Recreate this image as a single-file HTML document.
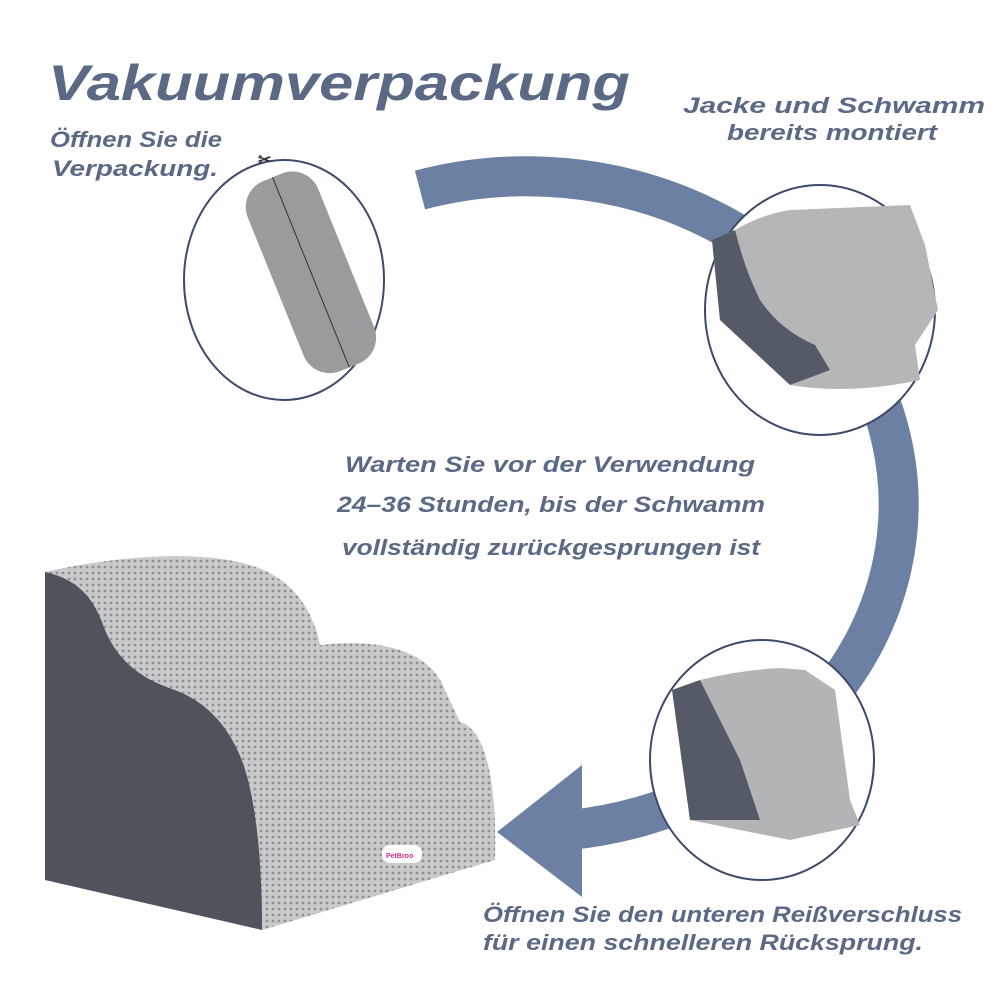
<!DOCTYPE html>
<html><head><meta charset="utf-8"><style>
body{margin:0;background:#fff;}
svg{display:block}
text{font-family:"Liberation Sans",sans-serif;font-style:italic;font-weight:bold;fill:#5b6985}
</style></head><body>
<svg width="1000" height="1000" viewBox="0 0 1000 1000">
<defs>
<pattern id="mesh" width="6" height="6" patternUnits="userSpaceOnUse">
<rect width="6" height="6" fill="#c9cacc"/><circle cx="3" cy="3" r="1.4" fill="#8e9093"/>
</pattern>
</defs>
<!-- main arc -->
<path d="M420,190 A372,328 0 1 1 570,830" fill="none" stroke="#6b80a3" stroke-width="40"/>
<polygon points="497,832 582,765 582,897" fill="#6b80a3"/>
<!-- circles -->
<ellipse cx="284" cy="280" rx="100" ry="120" fill="#fff" stroke="#3d4a6b" stroke-width="2"/>
<ellipse cx="820" cy="310" rx="115" ry="125" fill="#fff" stroke="#3d4a6b" stroke-width="2"/>
<ellipse cx="762" cy="760" rx="112" ry="120" fill="#fff" stroke="#3d4a6b" stroke-width="2"/>
<!-- cylinder -->
<g transform="rotate(-22 310 270)">
<rect x="272" y="170" width="76" height="205" rx="28" fill="#9a9b9c"/>
<line x1="310" y1="170" x2="310" y2="375" stroke="#333" stroke-width="1"/>
</g>
<text x="258" y="165" style="font-size:16px;font-style:normal;fill:#333">✂</text>
<!-- top-right product -->
<path d="M712,240 L735,230 Q760,215 790,210 L910,205 L925,245 L938,310 L915,345 L920,380 Q850,395 790,385 L720,320 Z" fill="#b5b6b8"/>
<path d="M712,240 L735,230 Q745,270 760,300 Q780,330 815,345 L830,370 L790,385 L720,320 Z" fill="#555b66"/>
<!-- bottom-right product -->
<path d="M672,690 L700,680 Q740,670 780,668 L805,670 L835,690 L850,800 L860,825 L790,840 L690,820 Z" fill="#b3b4b6"/>
<path d="M672,690 L700,680 Q720,720 740,760 L760,820 L690,820 Z" fill="#555b66"/>
<!-- stairs -->
<path d="M45,572 C120,555 200,550 250,565 C300,580 315,620 320,645 C380,638 430,650 445,690 L460,722 C490,730 497,800 495,860 L262,930 Z" fill="url(#mesh)"/>
<path d="M45,572 C80,580 95,600 105,630 C120,665 145,680 175,690 C215,705 238,740 248,780 C258,820 262,870 262,930 L45,880 Z" fill="#4f535b"/>
<rect x="382" y="845" width="40" height="18" rx="8" fill="#fff"/>
<text x="386" y="858" style="font-size:7px;fill:#d0308a;font-style:normal">PetBroo</text>
<!-- texts -->
<text x="48" y="100" textLength="582" lengthAdjust="spacingAndGlyphs" style="font-size:50px;fill:#5b6985">Vakuumverpackung</text>
<text x="50" y="147" textLength="172" lengthAdjust="spacingAndGlyphs" style="font-size:22px">Öffnen Sie die</text>
<text x="52" y="176" textLength="166" lengthAdjust="spacingAndGlyphs" style="font-size:22px">Verpackung.</text>
<text x="683" y="113" textLength="302" lengthAdjust="spacingAndGlyphs" style="font-size:22px">Jacke und Schwamm</text>
<text x="727" y="140" textLength="210" lengthAdjust="spacingAndGlyphs" style="font-size:22px">bereits montiert</text>
<text x="345" y="472" textLength="410" lengthAdjust="spacingAndGlyphs" style="font-size:22px">Warten Sie vor der Verwendung</text>
<text x="337" y="512" textLength="428" lengthAdjust="spacingAndGlyphs" style="font-size:22px">24–36 Stunden, bis der Schwamm</text>
<text x="342" y="555" textLength="418" lengthAdjust="spacingAndGlyphs" style="font-size:22px">vollständig zurückgesprungen ist</text>
<text x="483" y="922" textLength="479" lengthAdjust="spacingAndGlyphs" style="font-size:22px">Öffnen Sie den unteren Reißverschluss</text>
<text x="483" y="950" textLength="440" lengthAdjust="spacingAndGlyphs" style="font-size:22px">für einen schnelleren Rücksprung.</text>
</svg>
</body></html>
